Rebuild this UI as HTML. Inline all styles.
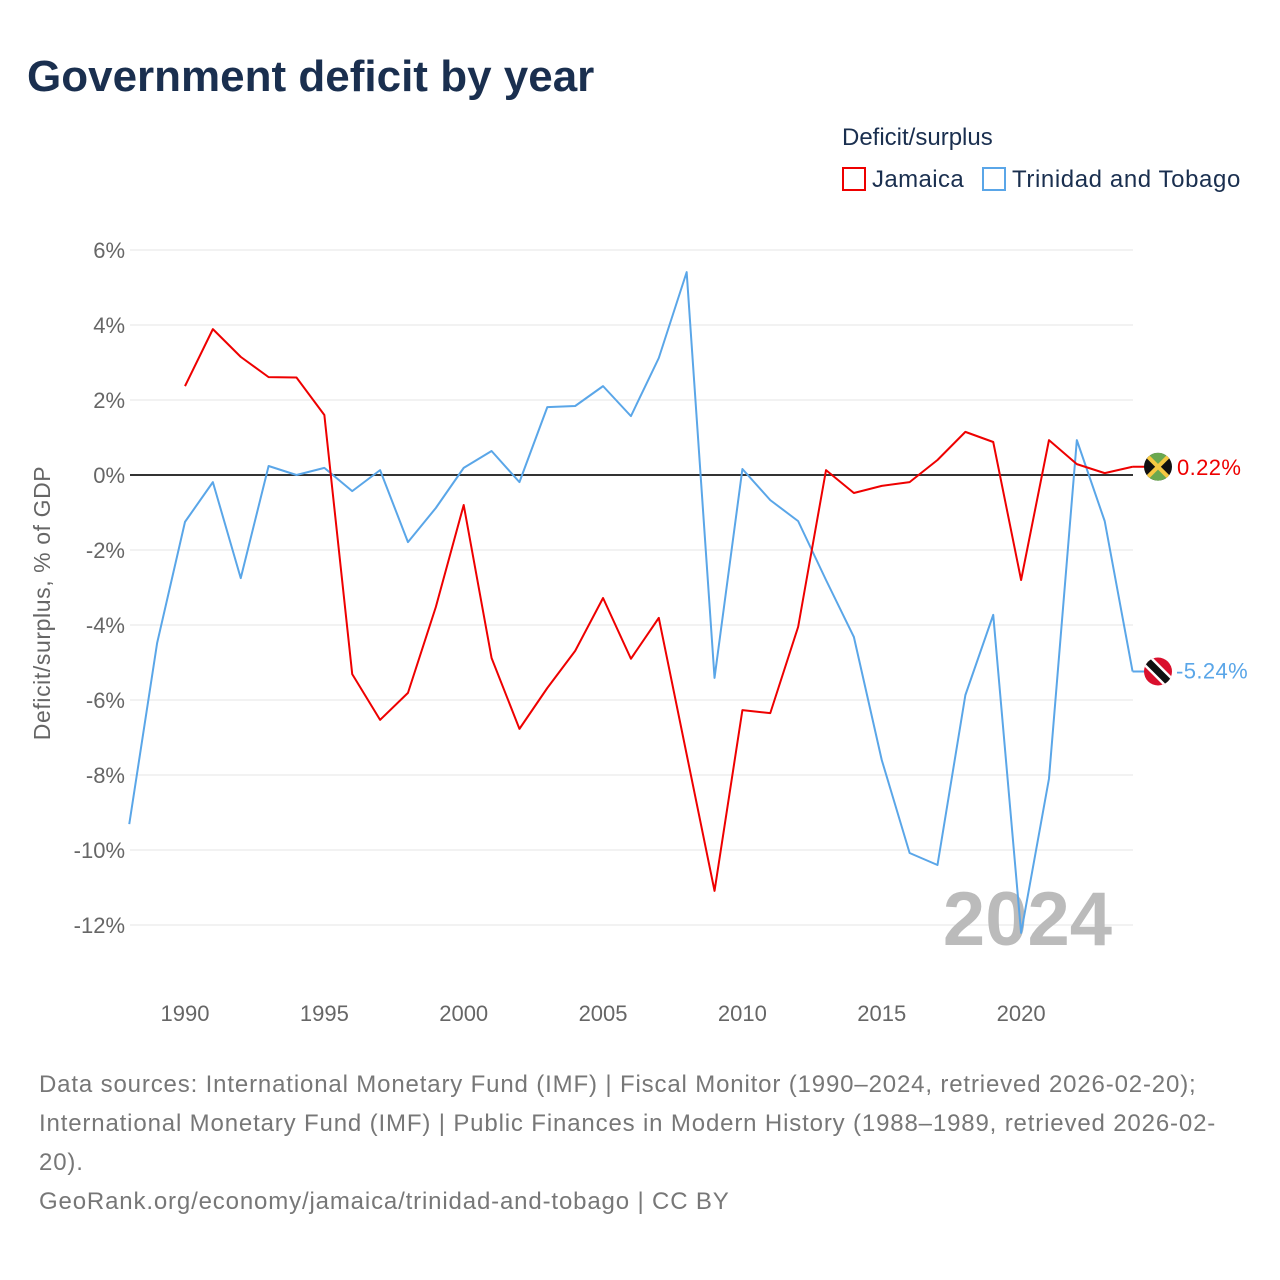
<!DOCTYPE html>
<html><head><meta charset="utf-8"><style>
body{margin:0;background:#fff;font-family:"Liberation Sans",sans-serif;}
.t{position:absolute;white-space:nowrap}
</style></head><body>
<div style="position:relative;width:1280px;height:1280px;overflow:hidden">
<div class="t" style="left:27px;top:52px;font-size:44px;font-weight:bold;color:#1a2f4f">Government deficit by year</div>
<div class="t" style="left:842px;top:124px;font-size:24px;color:#1a2f4f">Deficit/surplus</div>
<div class="t" style="left:842px;top:166px;font-size:24px;color:#1a2f4f;letter-spacing:0.4px"><span style="display:inline-block;width:24px;height:24px;border:2px solid #e00;box-sizing:border-box;vertical-align:-4px;margin-right:6px"></span>Jamaica</div>
<div class="t" style="left:982px;top:166px;font-size:24px;color:#1a2f4f;letter-spacing:0.6px"><span style="display:inline-block;width:24px;height:24px;border:2px solid #5aa6e8;box-sizing:border-box;vertical-align:-4px;margin-right:6px"></span>Trinidad and Tobago</div>
<svg id="c" width="1280" height="1280" style="position:absolute;left:0;top:0"></svg>
<div class="t" style="left:39px;top:1065px;font-size:24px;letter-spacing:0.85px;line-height:39px;color:#777">Data sources: International Monetary Fund (IMF) | Fiscal Monitor (1990–2024, retrieved 2026-02-20);<br>International Monetary Fund (IMF) | Public Finances in Modern History (1988–1989, retrieved 2026-02-<br>20).<br>GeoRank.org/economy/jamaica/trinidad-and-tobago | CC BY</div>
</div>
<script>
const yTicks=[6,4,2,0,-2,-4,-6,-8,-10,-12];
const xTicks=[1990,1995,2000,2005,2010,2015,2020];
const jamYears=[];for(let y=1990;y<=2024;y++)jamYears.push(y);
const jamVals=[2.37,3.89,3.15,2.61,2.6,1.6,-5.31,-6.53,-5.81,-3.52,-0.8,-4.88,-6.77,-5.68,-4.69,-3.28,-4.9,-3.81,-7.45,-11.09,-6.27,-6.35,-4.05,0.13,-0.48,-0.29,-0.19,0.4,1.15,0.88,-2.8,0.93,0.29,0.05,0.22];
const ttYears=[];for(let y=1988;y<=2024;y++)ttYears.push(y);
const ttVals=[-9.31,-4.48,-1.25,-0.19,-2.75,0.24,0,0.19,-0.43,0.13,-1.79,-0.88,0.19,0.64,-0.19,1.81,1.84,2.37,1.57,3.12,5.41,-5.41,0.16,-0.67,-1.23,-2.8,-4.32,-7.6,-10.08,-10.4,-5.87,-3.73,-12.21,-8.1,0.93,-1.23,-5.24];
const X=y=>185+(y-1990)*27.87, Y=v=>475-v*37.5;
const s=document.getElementById('c'),NS='http://www.w3.org/2000/svg';
function mk(t,a,txt){const e=document.createElementNS(NS,t);for(const k in a)e.setAttribute(k,a[k]);if(txt!=null)e.textContent=txt;s.appendChild(e);return e;}
yTicks.forEach(v=>{
 const g=mk('line',{x1:130,x2:1133,y1:Y(v),y2:Y(v),stroke:v===0?'#333':'#e6e6e6','stroke-width':v===0?2:1});
 
 
 const t=mk('text',{x:125,y:Y(v)+8,'text-anchor':'end','font-size':22,fill:'#666','font-family':'Liberation Sans'},v+'%');
 
 
});
xTicks.forEach(v=>{
 const t=mk('text',{x:X(v),y:1021,'text-anchor':'middle','font-size':22,fill:'#666','font-family':'Liberation Sans'},v);
 
 
});
const yt=mk('text',{x:50,y:603,transform:'rotate(-90 50 603)','text-anchor':'middle','font-size':23,'letter-spacing':'0.6',fill:'#666','font-family':'Liberation Sans'},'Deficit/surplus, % of GDP');


const yr=mk('text',{x:1112,y:945,'text-anchor':'end','font-size':76,'font-weight':'bold',fill:'#bbb','font-family':'Liberation Sans'},'2024');


function line(ys,vs,c,n){
 const p=mk('polyline',{points:ys.map((y,i)=>X(y)+','+Y(vs[i])).join(' '),fill:'none',stroke:c,'stroke-width':2,'stroke-linejoin':'round'});
 
 
}
line(ttYears,ttVals,'#5aa6e8','line-trinidad');
line(jamYears,jamVals,'#e00','line-jamaica');
const jv=jamVals[jamVals.length-1],tv=ttVals[ttVals.length-1];
mk('line',{x1:X(2024),x2:1150,y1:Y(jv),y2:Y(jv),stroke:'#e00','stroke-width':2});
mk('line',{x1:X(2024),x2:1150,y1:Y(tv),y2:Y(tv),stroke:'#5aa6e8','stroke-width':2});
let cy=Y(jv),cx=1158;
mk('defs',{}).innerHTML='<clipPath id="cj"><circle cx="'+cx+'" cy="'+cy+'" r="14"/></clipPath><clipPath id="ct"><circle cx="'+cx+'" cy="'+Y(tv)+'" r="14"/></clipPath>';
let g=mk('g',{'clip-path':'url(#cj)'});


g.innerHTML=`<rect x="${cx-14}" y="${cy-14}" width="28" height="28" fill="#111"/><polygon points="${cx-14},${cy-14} ${cx+14},${cy-14} ${cx},${cy}" fill="#6aa84f"/><polygon points="${cx-14},${cy+14} ${cx+14},${cy+14} ${cx},${cy}" fill="#6aa84f"/><line x1="${cx-14}" y1="${cy-14}" x2="${cx+14}" y2="${cy+14}" stroke="#f5c842" stroke-width="4"/><line x1="${cx+14}" y1="${cy-14}" x2="${cx-14}" y2="${cy+14}" stroke="#f5c842" stroke-width="4"/>`;
cy=Y(tv);
g=mk('g',{'clip-path':'url(#ct)'});


g.innerHTML=`<rect x="${cx-14}" y="${cy-14}" width="28" height="28" fill="#d9102d"/><line x1="${cx-14}" y1="${cy-14}" x2="${cx+14}" y2="${cy+14}" stroke="#fff" stroke-width="12"/><line x1="${cx-14}" y1="${cy-14}" x2="${cx+14}" y2="${cy+14}" stroke="#111" stroke-width="7"/>`;
const l1=mk('text',{x:1177,y:Y(jv)+8,'font-size':22,'letter-spacing':'0.4',fill:'#e00','font-family':'Liberation Sans'},jv.toFixed(2)+'%');


const l2=mk('text',{x:1176,y:Y(tv)+7,'font-size':22,'letter-spacing':'0.4',fill:'#5aa6e8','font-family':'Liberation Sans'},tv.toFixed(2)+'%');


</script>
</body></html>
